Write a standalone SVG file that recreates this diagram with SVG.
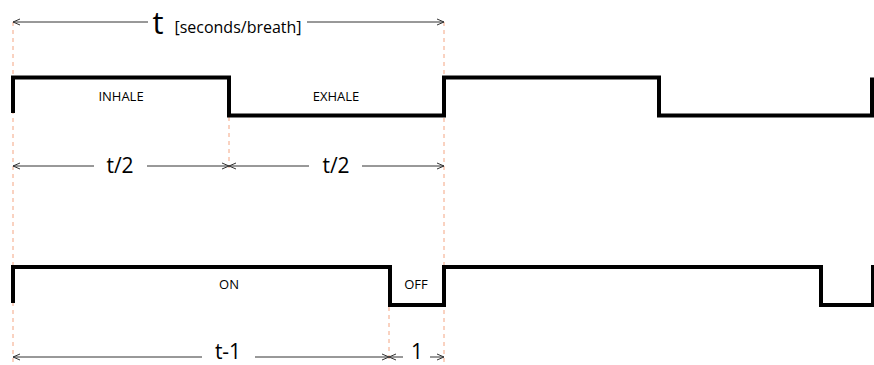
<svg xmlns="http://www.w3.org/2000/svg" width="874" height="365" viewBox="0 0 874 365">
<defs>
<style>
.wave{fill:none;stroke:#000;stroke-width:4;stroke-linejoin:miter;stroke-linecap:butt}
.guide{fill:none;stroke:#f4a582;stroke-width:1;stroke-dasharray:4 4}
.dim{fill:none;stroke:#333;stroke-width:1}
.lbl{font-family:"Open Sans","Liberation Sans",sans-serif;fill:#000;text-anchor:middle}
.small{font-size:13px}
.mid{font-size:21px}
</style>
<marker id="ah" viewBox="0 0 10 10" refX="10" refY="5" markerWidth="10" markerHeight="10" markerUnits="userSpaceOnUse" orient="auto-start-reverse">
<path d="M3,2 L10,5 L3,8" fill="none" stroke="#333" stroke-width="1"/>
</marker>
</defs>
<rect width="874" height="365" fill="#fff"/>
<g id="guides">
<line class="guide" x1="13" y1="22" x2="13" y2="362"/>
<line class="guide" x1="444" y1="22" x2="444" y2="362"/>
<line class="guide" x1="229" y1="117" x2="229" y2="168"/>
<line class="guide" x1="389" y1="307" x2="389" y2="360"/>
</g>
<g id="wave-breath">
<path class="wave" d="M13,113 V77.5 H229 V115.5 H444 V77.5 H659 V115.5 H872 V77.5"/>
<text class="lbl small" x="121" y="101">INHALE</text>
<text class="lbl small" x="336" y="101">EXHALE</text>
</g>
<g id="wave-valve">
<path class="wave" d="M13,303 V267 H390 V305 H444 V267 H821 V305 H873 V265"/>
<text class="lbl small" x="229" y="289">ON</text>
<text class="lbl small" x="416" y="289">OFF</text>
</g>
<g id="connectors">
<line class="dim" x1="148" y1="22" x2="13" y2="22" marker-end="url(#ah)"/>
<line class="dim" x1="307" y1="22" x2="444" y2="22" marker-end="url(#ah)"/>
<line class="dim" x1="94" y1="166" x2="13" y2="166" marker-end="url(#ah)"/>
<line class="dim" x1="147" y1="166" x2="229" y2="166" marker-end="url(#ah)"/>
<line class="dim" x1="309" y1="166" x2="229" y2="166" marker-end="url(#ah)"/>
<line class="dim" x1="362" y1="166" x2="444" y2="166" marker-end="url(#ah)"/>
<line class="dim" x1="202" y1="357" x2="13" y2="357" marker-end="url(#ah)"/>
<line class="dim" x1="255" y1="357" x2="389" y2="357" marker-end="url(#ah)"/>
<line class="dim" x1="403" y1="357" x2="389" y2="357" marker-end="url(#ah)"/>
<line class="dim" x1="430" y1="357" x2="444" y2="357" marker-end="url(#ah)"/>
</g>
<g id="labels">
<text class="lbl" x="158" y="34" font-size="31">t</text>
<text class="lbl" x="238" y="33" font-size="16">[seconds/breath]</text>
<text class="lbl mid" x="120" y="173">t/2</text>
<text class="lbl mid" x="336" y="173">t/2</text>
<text class="lbl mid" x="228" y="359">t-1</text>
<text class="lbl mid" x="417" y="359">1</text>
</g>
</svg>
